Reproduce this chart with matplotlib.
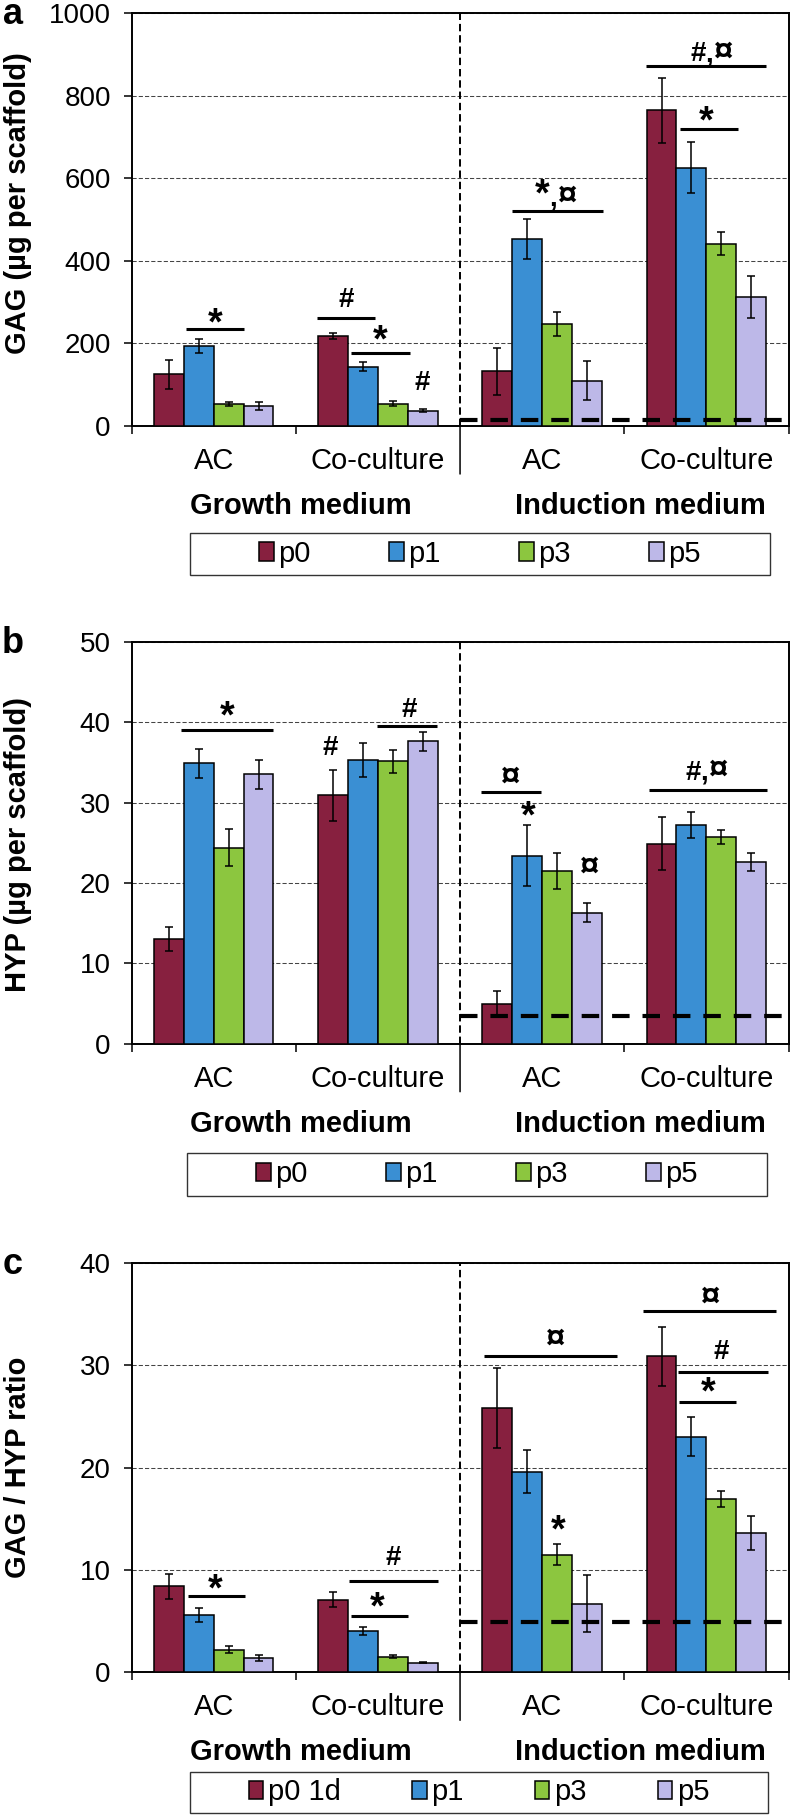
import numpy as np
import matplotlib
matplotlib.use("Agg")
import matplotlib.pyplot as plt
import matplotlib.transforms as mtrans
from matplotlib.patches import Patch, Rectangle
from matplotlib.offsetbox import TextArea, HPacker, AnnotationBbox

plt.rcParams['font.family'] = ['Liberation Sans', 'DejaVu Sans']

# ---------------- data ----------------
groups = ["AC", "Co-culture", "AC", "Co-culture"]
media = ["Growth medium", "Induction medium"]
passages = ["p0", "p1", "p3", "p5"]
passages_c = ["p0 1d", "p1", "p3", "p5"]
colors = ["#87203F", "#3A8FD3", "#8CC63F", "#BDB8E8"]

# rows = passage, columns = group (Growth AC, Growth Co, Induction AC, Induction Co)
gag = [[125, 218, 132, 764],
       [194, 143, 453, 625],
       [54, 54, 246, 441],
       [48, 37, 110, 313]]
gag_err = [[35, 7, 58, 78],
           [17, 11, 48, 62],
           [5, 6, 29, 28],
           [10, 3, 47, 51]]

hyp = [[13.0, 30.9, 5.0, 24.9],
       [34.9, 35.3, 23.4, 27.2],
       [24.4, 35.1, 21.5, 25.7],
       [33.5, 37.6, 16.3, 22.6]]
hyp_err = [[1.5, 3.2, 1.5, 3.3],
           [1.8, 2.1, 3.8, 1.6],
           [2.3, 1.4, 2.2, 0.9],
           [1.8, 1.2, 1.2, 1.1]]

ratio = [[8.4, 7.1, 25.8, 30.85],
         [5.6, 4.0, 19.6, 23.0],
         [2.2, 1.5, 11.5, 16.9],
         [1.4, 0.95, 6.7, 13.6]]
ratio_err = [[1.2, 0.7, 3.9, 2.9],
             [0.65, 0.4, 2.1, 1.9],
             [0.35, 0.15, 1.05, 0.8],
             [0.3, 0.07, 2.8, 1.65]]

# reference level for 1 day scaffolds (dashed line)
base_gag = 14
base_hyp = 3.4
base_ratio = 4.9

# significance bars: (x0, x1, y)  and  labels: (text, x, y)
sig_lines_a = [(-0.171, 0.185, 235), (0.631, 0.985, 262), (0.837, 1.196, 176),
               (1.815, 2.369, 521), (2.631, 3.362, 872), (2.840, 3.195, 720)]
sig_text_a = [("*", 0.007, 256), ("#", 0.808, 305), ("*", 1.016, 215), ("#", 1.272, 105),
              ("*,¤", 2.08, 559), ("#,¤", 3.03, 906), ("*", 3.0, 745)]

sig_lines_b = [(-0.199, 0.359, 39.0), (0.993, 1.362, 39.5), (1.628, 1.993, 31.3),
               (2.649, 3.368, 31.5)]
sig_text_b = [("*", 0.08, 41.1), ("#", 0.708, 36.8), ("#", 1.19, 41.5), ("¤", 1.804, 33.2),
              ("*", 1.916, 28.7), ("¤", 2.286, 22.0), ("#,¤", 3.0, 34.0)]

sig_lines_c = [(-0.157, 0.191, 7.46), (0.824, 1.364, 8.95), (0.836, 1.183, 5.53),
               (1.648, 2.454, 30.9), (2.616, 3.424, 35.25), (2.826, 3.374, 29.35),
               (2.834, 3.181, 26.4)]
sig_text_c = [("*", 0.008, 8.4), ("#", 1.096, 11.2), ("*", 0.995, 6.6), ("*", 2.098, 14.2),
              ("¤", 2.079, 32.5), ("¤", 3.02, 36.6), ("#", 3.088, 31.3), ("*", 3.008, 27.6)]

# ---------------- plot ----------------
W, H = 792, 1816
fig = plt.figure(figsize=(W / 100, H / 100), dpi=100)
fig.set_facecolor("white")

x = np.arange(len(groups))
width = 0.182
sym_size = {"*": 27, "¤": 25}


def sig_label(ax, t, tx, ty):
    # each symbol gets its own size, glued on a common baseline
    parts = [TextArea(ch, textprops=dict(fontsize=sym_size.get(ch, 20), fontweight="bold"))
             for ch in t]
    box = HPacker(children=parts, align="baseline", pad=0, sep=0)
    dy = -3 if t == "*" else 0
    ab = AnnotationBbox(box, (tx, ty), xybox=(0, dy), xycoords="data",
                        boxcoords="offset points", frameon=False,
                        box_alignment=(0.5, 0.5), pad=0, zorder=6)
    ax.add_artist(ab)


def draw_panel(letter, top, bottom, vals, errs, ylim, yticks, ylabel, ylabel_y,
               base, lines, texts, leg_labels, leg_box, colspace):
    left, right = 131.6, 788.5
    ax = fig.add_axes([left / W, 1 - bottom / H, (right - left) / W, (bottom - top) / H])
    for i in range(len(passages)):
        ax.bar(x + (i - 1.5) * width, vals[i], width, yerr=errs[i],
               color=colors[i], edgecolor="black", linewidth=1.1, zorder=3,
               error_kw=dict(ecolor="black", elinewidth=1.1, capsize=3, capthick=1.1, zorder=4))
    ax.set_xlim(-0.5, 3.5)
    ax.set_ylim(*ylim)
    ax.set_yticks(yticks)
    ax.set_yticklabels([str(t) for t in yticks])
    ax.tick_params(axis="y", length=6, width=1.1, labelsize=20, pad=9)
    ax.set_xticks([-0.5, 0.5, 2.5, 3.5])
    ax.set_xticklabels([])
    ax.tick_params(axis="x", length=6, width=1.1)
    ax.yaxis.grid(True, linestyle=(0, (4, 2)), linewidth=0.75, color="#444444")
    ax.set_axisbelow(True)
    for s in ax.spines.values():
        s.set_linewidth(1.4)

    # separators between media
    ax.axvline(1.5, color="black", lw=1.4, ls=(0, (3.8, 2.0)), zorder=2)
    tr = ax.get_xaxis_transform()
    below = mtrans.offset_copy(tr, fig=fig, y=-48, units="dots")
    ax.annotate("", xy=(1.5, 0), xycoords=tr, xytext=(1.5, 0), textcoords=below,
                arrowprops=dict(arrowstyle="-", lw=1.1, color="black", shrinkA=0, shrinkB=0))

    # 1 day reference level
    ax.plot([1.5, 3.5], [base, base], color="black", lw=3, ls=(0, (4.2, 3.1)), zorder=6)

    for x0, x1, y in lines:
        ax.plot([x0, x1], [y, y], color="black", lw=2.2, zorder=5, solid_capstyle="butt")
    for t, tx, ty in texts:
        sig_label(ax, t, tx, ty)

    # category labels
    lab_tr = mtrans.offset_copy(tr, fig=fig, y=-35, units="dots")
    for xi, g in zip(x, groups):
        ax.text(xi, 0, g, transform=lab_tr, ha="center", va="center", fontsize=21)
    med_tr = mtrans.offset_copy(tr, fig=fig, y=-80, units="dots")
    for xm, m in zip([0.53, 2.6], media):
        ax.text(xm, 0, m, transform=med_tr, ha="center", va="center", fontsize=21,
                fontweight="bold")

    fig.text(18 / W, 1 - ylabel_y / H, ylabel, rotation=90, ha="center", va="center",
             fontsize=21, fontweight="bold")
    fig.text(13 / W, 1 - (top + 2) / H, letter, ha="center", va="center", fontsize=26,
             fontweight="bold")

    # legend with a plain box
    bx0, by0, bx1, by1 = leg_box
    fig.add_artist(Rectangle((bx0 / W, 1 - by1 / H), (bx1 - bx0) / W, (by1 - by0) / H,
                             transform=fig.transFigure, fill=False, edgecolor="#333333",
                             lw=1.0))
    handles = [Patch(facecolor=c, edgecolor="black", lw=1.1) for c in colors]
    fig.legend(handles, leg_labels, loc="center", ncol=4, frameon=False, fontsize=21,
               bbox_to_anchor=((bx0 + bx1) / 2 / W, 1 - (by0 + by1) / 2 / H),
               handlelength=0.5, handleheight=0.6, handletextpad=0.15,
               columnspacing=colspace, borderpad=0)
    return ax


draw_panel("a", 13, 426, gag, gag_err, (0, 1000), list(range(0, 1001, 200)),
           "GAG (µg per scaffold)", 203, base_gag, sig_lines_a, sig_text_a,
           passages, (190, 533, 770, 575), 2.7)
draw_panel("b", 641.7, 1043.7, hyp, hyp_err, (0, 50), list(range(0, 51, 10)),
           "HYP (µg per scaffold)", 845, base_hyp, sig_lines_b, sig_text_b,
           passages, (187, 1153, 767, 1196), 2.7)
draw_panel("c", 1262.7, 1672.3, ratio, ratio_err, (0, 40), list(range(0, 41, 10)),
           "GAG / HYP ratio", 1467, base_ratio, sig_lines_c, sig_text_c,
           passages_c, (190, 1772, 768, 1813), 2.45)

fig.savefig("out.png", dpi=100, facecolor="white")
